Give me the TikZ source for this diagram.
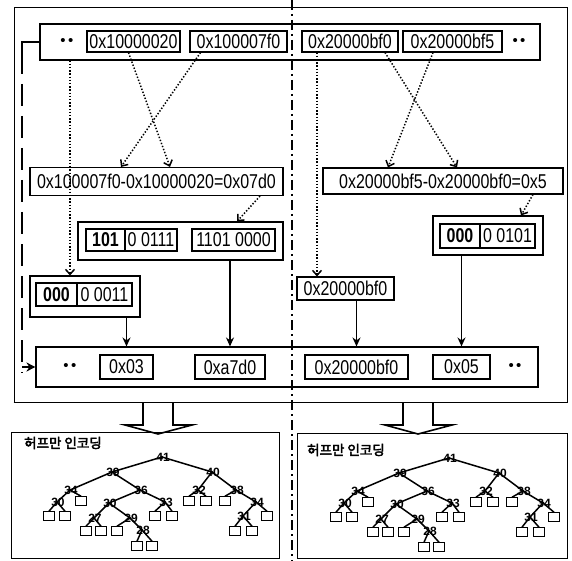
\documentclass[tikz,border=0pt]{standalone}
\usepackage{fontspec}
\setmainfont{Liberation Sans}
\newfontfamily\hexf{Liberation Sans}[FakeStretch=0.8]
\newfontfamily\krf{Noto Sans CJK KR}[FakeBold=3]
\usetikzlibrary{arrows.meta}
\tikzset{
  frame/.style={draw, line width=0.9pt, inner sep=0pt},
  hbox/.style={draw, line width=1.1pt, inner sep=0pt, font=\hexf\fontsize{20}{22}\selectfont},
  bbox/.style={hbox, font=\bfseries\hexf\fontsize{20}{22}\selectfont},
  dotsn/.style={inner sep=0pt, font=\fontsize{15}{15}\selectfont},
  dotarr/.style={line width=1.5pt, dash pattern=on 1.4pt off 1.8pt, -{Straight Barb[length=5pt,width=9pt,line width=1.5pt]}},
  solarr/.style={line width=1.8pt, -{Stealth[length=9pt,width=8pt]}},
  leftdash/.style={line width=2.6pt, dash pattern=on 22pt off 10pt},
  dashdot/.style={line width=2.2pt, dash pattern=on 10pt off 4pt on 2pt off 4pt},
  blockarr/.style={draw, fill=white, line width=1.6pt, line join=miter},
  treeedge/.style={line width=1.5pt},
  leaf/.style={draw, line width=1.1pt, minimum width=10.5pt, minimum height=8.5pt, inner sep=0pt, fill=white},
  tlab/.style={inner sep=0pt, font=\bfseries\fontsize{12}{12}\selectfont},
  ttitle/.style={inner sep=0pt, anchor=west, font=\krf\fontsize{13.5}{14}\selectfont}
}
\newcommand\hufftree[1]{%
  \foreach \n/\x/\y in {r/162/457, a/112/472, b/212/472, a1/70/490, a2/140/490,
      a11/57/502, a21/109/503, a22/165/502, a211/94/518, a212/130/518, a2122/142/530,
      b1/198/490, b2/236/490, b22/256/502, b221/243/516}
    {\coordinate (#1\n) at (\x,\y);}
  \foreach \n/\x/\y in {l1/81/501, l2/49/516, l3/65/516, l4/86/531, l5/101/531,
      l6/117/531, l7/137/546, l8/152/546, l9/155/516, l10/172/516, l11/189/501,
      l12/206/501, l13/225/501, l14/267/516, l15/235/531, l16/252/531}
    {\node[leaf] (#1\n) at (\x,\y) {};}
  \foreach \p/\c in {r/a, r/b, a/a1, a/a2, a1/a11, a2/a21, a2/a22, a21/a211,
      a21/a212, a212/a2122, b/b1, b/b2, b2/b22, b22/b221}
    {\draw[treeedge] (#1\p) -- (#1\c);}
  \foreach \p/\c in {a1/l1, a11/l2, a11/l3, a211/l4, a211/l5, a212/l6, a2122/l7,
      a2122/l8, a22/l9, a22/l10, b1/l11, b1/l12, b2/l13, b22/l14, b221/l15, b221/l16}
    {\draw[treeedge] (#1\p) -- (#1\c.north);}
  \foreach \n/\t in {r/41, a/39, b/40, a1/34, a2/36, a11/30, a21/30, a22/33,
      a211/27, a212/29, a2122/28, b1/32, b2/38, b22/34, b221/31}
    {\fill (#1\n) circle (1.5pt);
     \node[tlab] (#1\n t) at ([xshift=1pt,yshift=-0.5pt]#1\n) {\t};}
}
\begin{document}
\begin{tikzpicture}[x=1pt, y=-1pt]
\useasboundingbox (0,0) rectangle (572,561);
\fill[white] (0,0) rectangle (572,561);

% outer frame and rows
\node[frame, minimum width=553pt, minimum height=395pt] (outer) at (290.5,204.5) {};
\node[hbox, minimum width=500pt, minimum height=36pt] (top) at (290,42) {};
\node[dotsn] (dt1) at (67,42) {\textbullet\,\textbullet};
\node[dotsn] (dt2) at (519,42) {\textbullet\,\textbullet};
\node[hbox, minimum width=93pt, minimum height=21pt] (t1) at (133.5,41.5) {0x10000020};
\node[hbox, minimum width=97pt, minimum height=21pt] (t2) at (238.5,41.5) {0x100007f0};
\node[hbox, minimum width=96pt, minimum height=21pt] (t3) at (350,41.5) {0x20000bf0};
\node[hbox, minimum width=99pt, minimum height=21pt] (t4) at (452.5,41.5) {0x20000bf5};

% difference boxes
\node[hbox, minimum width=253pt, minimum height=28pt] (dl) at (156.5,181.5) {0x100007f0-0x10000020=0x07d0};
\node[hbox, minimum width=240pt, minimum height=26pt] (dr) at (443,181) {0x20000bf5-0x20000bf0=0x5};

% bit boxes
\node[hbox, minimum width=205pt, minimum height=38pt] (bb1) at (180.5,241) {};
\node[bbox, minimum width=39pt, minimum height=22pt] (c11) at (105.5,240) {101};
\node[hbox, minimum width=52pt, minimum height=22pt] (c12) at (151,240) {0 0111};
\node[hbox, minimum width=83pt, minimum height=22pt] (c13) at (233.5,240) {1101 0000};

\node[hbox, minimum width=110pt, minimum height=41pt] (bb2) at (85,296.5) {};
\node[bbox, minimum width=41pt, minimum height=23pt] (c21) at (56.5,294.5) {000};
\node[hbox, minimum width=55pt, minimum height=23pt] (c22) at (104.5,294.5) {0 0011};

\node[hbox, minimum width=110pt, minimum height=39pt] (bb3) at (488,235.5) {};
\node[bbox, minimum width=40pt, minimum height=24pt] (c31) at (460,236) {000};
\node[hbox, minimum width=55pt, minimum height=24pt] (c32) at (507.5,236) {0 0101};

\node[hbox, minimum width=97pt, minimum height=23pt] (rb) at (345.5,288.5) {0x20000bf0};

% bottom row
\node[hbox, minimum width=502pt, minimum height=40pt] (br) at (287,367) {};
\node[dotsn] (db1) at (70,367) {\textbullet\,\textbullet};
\node[dotsn] (db2) at (515,367) {\textbullet\,\textbullet};
\node[hbox, minimum width=53pt, minimum height=24pt] (b1) at (126.5,367) {0x03};
\node[hbox, minimum width=70pt, minimum height=24pt] (b2) at (230,367) {0xa7d0};
\node[hbox, minimum width=103pt, minimum height=24pt] (b3) at (356.5,367) {0x20000bf0};
\node[hbox, minimum width=57pt, minimum height=24pt] (b4) at (461.5,367) {0x05};

% dotted arrows
\coordinate (d1x) at (70,0);
\draw[dotarr] (top.south -| d1x) -- (bb2.north -| d1x);
\draw[dotarr] ([xshift=-5pt]t1.south) -- ([xshift=13.5pt]dl.north);
\draw[dotarr] ([xshift=-38pt]t2.south) -- ([xshift=-35.5pt]dl.north);
\draw[dotarr] ([xshift=103.5pt]dl.south) -- ([xshift=56.5pt]bb1.north);
\draw[dotarr] ([xshift=-33pt]t3.south) -- ([xshift=-28.5pt]rb.north);
\draw[dotarr] ([xshift=35pt]t3.south) -- ([xshift=14pt]dr.north);
\draw[dotarr] ([xshift=-19.5pt]t4.south) -- ([xshift=-55pt]dr.north);
\draw[dotarr] ([xshift=90pt]dr.south) -- ([xshift=33pt]bb3.north);

% solid arrows
\draw[solarr] (bb2.south -| b1) -- (br.north -| b1);
\draw[solarr] (bb1.south -| b2) -- (br.north -| b2);
\draw[solarr] (rb.south -| b3) -- (br.north -| b3);
\draw[solarr] (bb3.south -| b4) -- (br.north -| b4);

% left bracket
\coordinate (lk1) at (22,42);
\coordinate (lk2) at (22,367);
\coordinate (lk3) at (22,52);
\draw[line width=2.6pt] (top.west) -- (lk1) -- (lk3);
\draw[leftdash] (lk3) -- ([yshift=-6pt]lk2);
\draw[line width=2pt, -{Stealth[length=9pt,width=9pt]}] (lk2) -- (br.west);

% dash-dot divider
\coordinate (dd1) at (292,0);
\coordinate (dd2) at (292,561);
\draw[dashdot] (dd1) -- (dd2);

% block arrows
\draw[blockarr] (143,402) -- (143,425) -- (125,425) -- (158,434) -- (192,425) -- (173,425) -- (173,402);
\draw[blockarr] (403,402) -- (403,425) -- (385,425) -- (418,434) -- (452,425) -- (433,425) -- (433,402);
\draw[line width=0.9pt] (outer.south west) -- (outer.south east);

% Huffman boxes
\node[frame, minimum width=268pt, minimum height=126pt] (tl) at (145,495) {};
\node[frame, minimum width=270pt, minimum height=125pt] (tr) at (432,495.5) {};
\node[ttitle] (ttl1) at (24,443) {허프만 인코딩};
\node[ttitle] (ttl2) at (307,450) {허프만 인코딩};
\hufftree{L}
\begin{scope}[shift={(287,1)}]
\hufftree{R}
\end{scope}
\end{tikzpicture}
\end{document}
